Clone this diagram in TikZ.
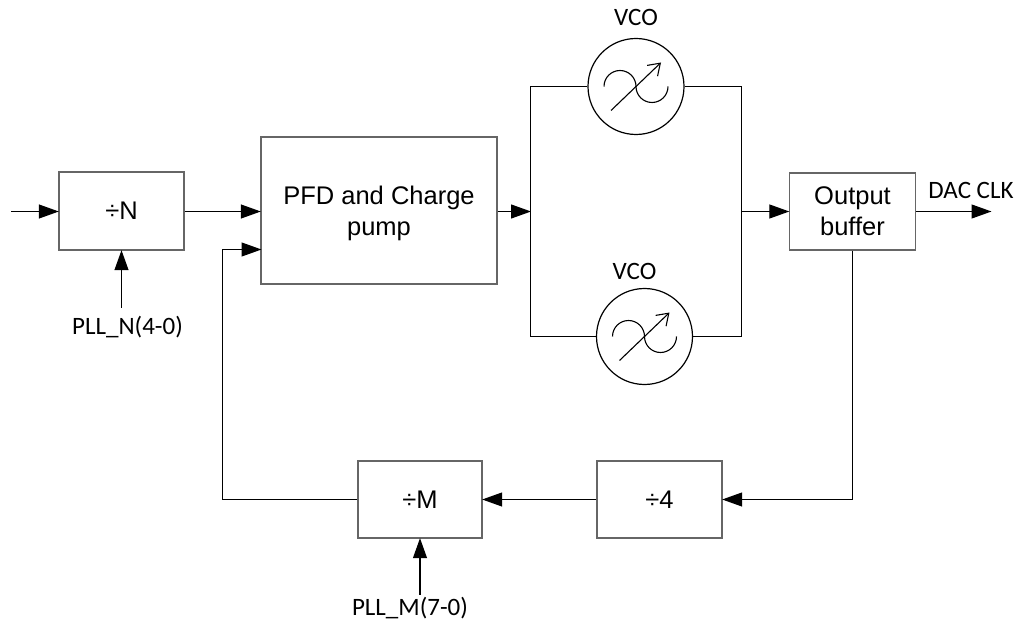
\documentclass[tikz,border=0pt]{standalone}
\usepackage{fontspec}
\setmainfont{Liberation Sans}
\newfontfamily\labelfont{Carlito}
\usetikzlibrary{arrows.meta}
\tikzset{
  blockbox/.style={draw=black!60,line width=1.4pt,align=center,inner sep=0pt,font=\fontsize{25.5}{31}\selectfont},
  vcocircle/.style={draw,circle,line width=1.2pt,minimum size=96pt,inner sep=0pt},
  tag/.style={inner sep=0pt,font=\labelfont\fontsize{25}{30}\selectfont},
  wire/.style={line width=1.2pt},
  flow/.style={wire,-{Triangle[length=20pt,width=14pt]},shorten >=-0.5pt}
}
\newcommand{\vcosymbol}[1]{
\draw[line width=1.1pt] ([xshift=-32pt]#1.center) arc (180:0:16pt) arc (180:360:16pt);
\draw[line width=1.1pt,-{Straight Barb[length=11pt,width=15pt]}] ([shift={(-25pt,-24pt)}]#1.center)--([shift={(25pt,24pt)}]#1.center);
}
\begin{document}
\begin{tikzpicture}[x=1pt,y=1pt]
\useasboundingbox (0,0) rectangle (1017,-620);
% blocks
\node[blockbox,minimum width=125pt,minimum height=78pt] (divn) at (121.5,-211) {÷N};
\node[blockbox,minimum width=236pt,minimum height=147pt] (pfd) at (379,-210.5) {\rule{0pt}{24.5pt}PFD and Charge\\pump};
\node[blockbox,minimum width=126pt,minimum height=77pt] (outbuf) at (852.5,-211.5) {Output\\buffer};
\node[blockbox,minimum width=125pt,minimum height=77pt] (divfour) at (659.5,-499.5) {÷4};
\node[blockbox,minimum width=124pt,minimum height=77pt] (divm) at (420,-499.5) {÷M};
% oscillators
\node[vcocircle] (vcoa) at (636,-86.5) {};
\node[vcocircle] (vcob) at (644.5,-336.5) {};
\vcosymbol{vcoa}
\vcosymbol{vcob}
\node[tag] (vcoalab) at (636,-17) {VCO};
\node[tag] (vcoblab) at (634.5,-271) {VCO};
% labels
\node[tag] (pllnlab) at (127.5,-327) {PLL\_N(4-0)};
\node[tag] (pllmlab) at (410,-608) {PLL\_M(7-0)};
\node[tag] (clklab) at (971,-190) {DAC CLK};
% free ends
\coordinate (clkin) at (11,-211.5);
\coordinate (clkout) at (991,-211.5);
\coordinate (fbin) at (261,-249.5);
\coordinate (railleft) at (530.5,-211.5);
\coordinate (railright) at (741.5,-211.5);
% wires
\draw[flow] (clkin)--(clkin-|divn.west);
\draw[flow] (clkin-|divn.east)--(clkin-|pfd.west);
\draw[flow] ([yshift=8pt]pllnlab.north-|divn.south)--(divn.south);
\draw[flow] (pfd.east|-railleft)--(railleft);
\draw[wire] (vcoa.west)-|(railleft)|-(vcob.west);
\draw[wire] (vcoa.east)-|(railright)|-(vcob.east);
\draw[flow] (railright)--(railright-|outbuf.west);
\draw[flow] (outbuf.east)--(clkout);
\draw[flow] (outbuf.south)|-(divfour.east);
\draw[flow] (divfour.west)--(divm.east);
\draw[flow] ([yshift=2pt]pllmlab.north-|divm.south)--(divm.south);
\draw[flow] (divm.west)-|(222.5,-249.5)--(fbin);
\end{tikzpicture}
\end{document}
